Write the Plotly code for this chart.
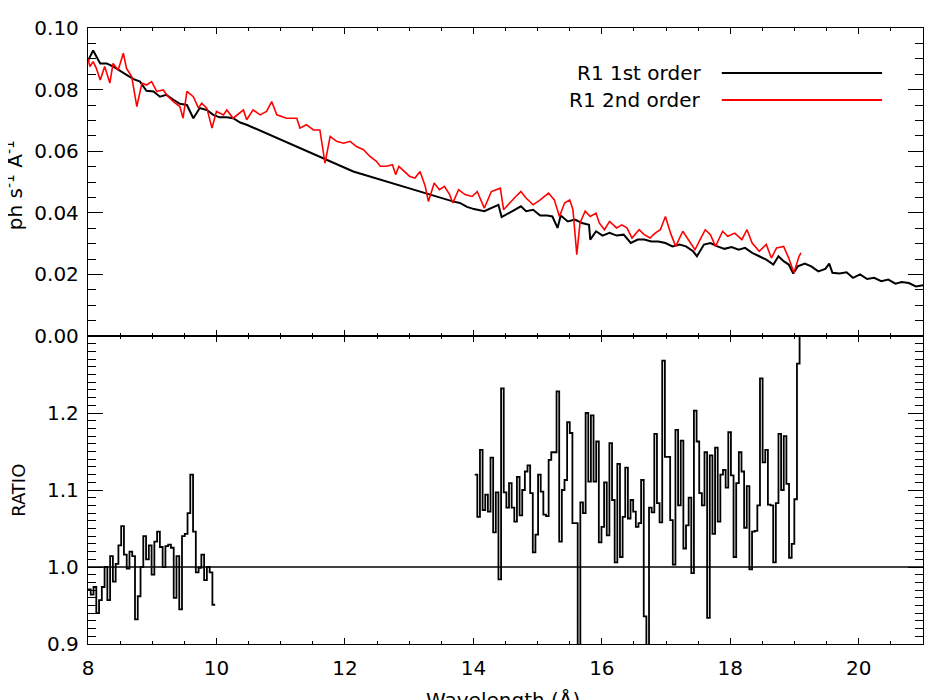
import numpy as np
import plotly.graph_objects as go
from plotly.subplots import make_subplots

# ---------------- data ----------------
# R1 1st order spectrum (ph s^-1 A^-1)
first_wl = [8.00, 8.08, 8.19, 8.29, 8.39, 8.50, 8.60, 8.71, 8.81, 8.91, 9.02, 9.12, 9.22, 9.33,
            9.43, 9.54, 9.64, 9.74, 9.85, 9.95, 10.05, 10.16, 10.26, 10.37, 10.47, 12.13, 12.55,
            13.25, 13.68, 13.79, 13.90, 14.01, 14.17, 14.28, 14.39, 14.44, 14.55, 14.66, 14.74,
            14.82, 14.93, 15.04, 15.15, 15.23, 15.31, 15.36, 15.47, 15.58, 15.69, 15.80, 15.82,
            15.91, 16.01, 16.12, 16.23, 16.34, 16.45, 16.56, 16.66, 16.77, 16.88, 16.99, 17.10,
            17.21, 17.31, 17.42, 17.48, 17.59, 17.69, 17.80, 17.91, 18.02, 18.13, 18.23, 18.34,
            18.45, 18.56, 18.67, 18.75, 18.83, 18.91, 18.98, 19.05, 19.16, 19.26, 19.37, 19.48,
            19.54, 19.59, 19.70, 19.81, 19.91, 20.02, 20.13, 20.24, 20.35, 20.46, 20.57, 20.67,
            20.78, 20.89, 21.00]
first_flux = [0.0894, 0.0927, 0.0885, 0.0885, 0.0875, 0.0862, 0.0848, 0.0834, 0.0826, 0.0796,
              0.0794, 0.0777, 0.0783, 0.0767, 0.0754, 0.0750, 0.0707, 0.0740, 0.0734, 0.0718,
              0.0710, 0.0710, 0.0707, 0.0693, 0.0686, 0.0534, 0.0507, 0.0464, 0.0437, 0.0432,
              0.0419, 0.0412, 0.0405, 0.0416, 0.0426, 0.0386, 0.0399, 0.0410, 0.0421, 0.0405,
              0.0410, 0.0391, 0.0391, 0.0388, 0.0351, 0.0391, 0.0372, 0.0378, 0.0367, 0.0361,
              0.0313, 0.0340, 0.0326, 0.0335, 0.0326, 0.0329, 0.0302, 0.0313, 0.0313, 0.0307,
              0.0307, 0.0302, 0.0291, 0.0297, 0.0291, 0.0275, 0.0259, 0.0297, 0.0302, 0.0291,
              0.0283, 0.0289, 0.0280, 0.0286, 0.0270, 0.0259, 0.0248, 0.0232, 0.0259, 0.0243,
              0.0232, 0.0203, 0.0226, 0.0235, 0.0226, 0.0210, 0.0218, 0.0235, 0.0205, 0.0203,
              0.0207, 0.0189, 0.0200, 0.0185, 0.0189, 0.0178, 0.0183, 0.0170, 0.0175, 0.0172,
              0.0161, 0.0165]

# R1 2nd order spectrum
second_wl = [8.00, 8.03, 8.08, 8.13, 8.19, 8.26, 8.34, 8.39, 8.47, 8.55, 8.60, 8.68, 8.76, 8.84,
             8.91, 8.99, 9.07, 9.17, 9.25, 9.33, 9.43, 9.48, 9.54, 9.64, 9.72, 9.77, 9.85, 9.93,
             10.00, 10.11, 10.16, 10.26, 10.42, 10.47, 10.57, 10.68, 10.78, 10.86, 10.94, 11.09,
             11.25, 11.30, 11.40, 11.51, 11.61, 11.69, 11.77, 11.87, 11.98, 12.08, 12.18, 12.29,
             12.39, 12.49, 12.55, 12.65, 12.74, 12.79, 12.84, 12.93, 13.01, 13.09, 13.17, 13.25,
             13.30, 13.39, 13.47, 13.55, 13.63, 13.68, 13.77, 13.87, 13.98, 14.06, 14.17, 14.28,
             14.42, 14.47, 14.58, 14.66, 14.74, 14.82, 14.93, 15.04, 15.17, 15.26, 15.34, 15.42,
             15.50, 15.55, 15.61, 15.66, 15.74, 15.82, 15.91, 15.96, 16.04, 16.12, 16.23, 16.31,
             16.39, 16.47, 16.58, 16.66, 16.75, 16.83, 16.91, 16.99, 17.07, 17.15, 17.26, 17.37,
             17.45, 17.53, 17.61, 17.69, 17.77, 17.88, 17.96, 18.07, 18.18, 18.26, 18.34, 18.45,
             18.56, 18.64, 18.72, 18.83, 18.91, 18.99, 19.07, 19.10]
second_flux = [0.0902, 0.0875, 0.0891, 0.0869, 0.0831, 0.0875, 0.0821, 0.0885, 0.0864, 0.0918,
               0.0869, 0.0842, 0.0745, 0.0821, 0.0815, 0.0826, 0.0794, 0.0799, 0.0777, 0.0761,
               0.0745, 0.0707, 0.0794, 0.0777, 0.0740, 0.0756, 0.0740, 0.0675, 0.0729, 0.0718,
               0.0734, 0.0707, 0.0734, 0.0702, 0.0734, 0.0718, 0.0729, 0.0761, 0.0718, 0.0707,
               0.0707, 0.0675, 0.0686, 0.0669, 0.0669, 0.0561, 0.0648, 0.0632, 0.0626, 0.0632,
               0.0615, 0.0605, 0.0583, 0.0567, 0.0551, 0.0551, 0.0556, 0.0524, 0.0551, 0.0534,
               0.0518, 0.0513, 0.0534, 0.0486, 0.0437, 0.0497, 0.0475, 0.0486, 0.0459, 0.0432,
               0.0475, 0.0459, 0.0453, 0.0469, 0.0415, 0.0469, 0.0480, 0.0410, 0.0437, 0.0453,
               0.0469, 0.0448, 0.0426, 0.0442, 0.0464, 0.0442, 0.0388, 0.0432, 0.0442, 0.0410,
               0.0264, 0.0367, 0.0405, 0.0388, 0.0399, 0.0367, 0.0345, 0.0372, 0.0351, 0.0361,
               0.0351, 0.0318, 0.0345, 0.0329, 0.0318, 0.0334, 0.0345, 0.0388, 0.0334, 0.0291,
               0.0340, 0.0307, 0.0280, 0.0313, 0.0345, 0.0329, 0.0291, 0.0340, 0.0324, 0.0334,
               0.0313, 0.0345, 0.0302, 0.0275, 0.0297, 0.0253, 0.0286, 0.0291, 0.0253, 0.0205,
               0.0259, 0.0270]

# RATIO, short-wavelength block (8.0 - 9.98 A)
ratio_lo_start, ratio_lo_end = 8.0, 9.98
ratio_lo = [0.971, 0.964, 0.974, 0.940, 0.957, 0.974, 1.000, 0.957, 1.014, 0.981,
            1.004, 1.028, 1.053, 1.016, 0.998, 1.020, 1.014, 0.932, 0.962, 1.000,
            1.040, 1.010, 1.028, 0.990, 1.033, 1.046, 1.026, 1.000, 1.027, 1.029,
            1.025, 0.960, 1.014, 0.945, 1.040, 1.043, 1.070, 1.120, 1.046, 0.993,
            0.999, 1.016, 0.983, 1.000, 0.993, 0.951]

# RATIO, long-wavelength block (14.02 - 19.12 A)
ratio_hi_start, ratio_hi_end = 14.02, 19.12
ratio_hi = [1.120, 1.065, 1.152, 1.074, 1.094, 1.072, 1.142, 1.045, 1.097, 0.984,
            1.232, 1.097, 1.077, 1.109, 1.077, 1.059, 1.117, 1.067, 1.100, 1.124,
            1.132, 1.096, 1.019, 1.042, 1.120, 1.098, 1.068, 1.066, 1.139, 1.149,
            1.149, 1.228, 1.033, 1.100, 1.113, 1.188, 1.174, 1.057, 1.057, 0.850,
            1.084, 1.070,
            1.200, 1.111, 1.197, 1.111, 1.163, 1.032, 1.052, 1.110, 1.041, 1.161,
            1.087, 1.006, 1.134, 1.013, 1.065, 1.129, 1.063, 1.087, 1.072, 1.052,
            1.057, 1.113, 0.936, 0.850, 1.077, 1.071, 1.173, 1.083, 1.058, 1.268,
            1.143, 1.143, 1.061, 1.003, 1.178, 1.080, 1.164, 1.024, 1.054, 1.090,
            0.992, 1.203,
            1.163, 1.096, 1.080, 1.149, 0.934, 1.145, 1.043, 1.155, 1.059, 1.120,
            1.126, 1.103, 1.175, 1.119, 1.013, 1.109, 1.149, 1.124, 1.051, 1.105,
            0.997, 1.046, 1.047, 1.080, 1.245, 1.136, 1.152, 1.081, 1.080, 1.006,
            1.083, 1.173, 1.100, 1.170, 1.108, 1.012, 1.030, 1.088, 1.264, 1.350]

x_ticks = [8, 10, 12, 14, 16, 18, 20]
flux_ticks = [0.00, 0.02, 0.04, 0.06, 0.08, 0.10]
ratio_ticks = [0.9, 1.0, 1.1, 1.2]
legend_labels = ["R1 1st order", "R1 2nd order"]

# ---------------- figure ----------------
FONT = "DejaVu Sans"
FS = 20
fig = make_subplots(rows=2, cols=1, shared_xaxes=True, vertical_spacing=0)

fig.add_trace(go.Scatter(x=first_wl, y=first_flux, mode="lines",
                         line=dict(color="black", width=2), showlegend=False), row=1, col=1)
fig.add_trace(go.Scatter(x=second_wl, y=second_flux, mode="lines",
                         line=dict(color="#ff0000", width=1.6), showlegend=False), row=1, col=1)


def step_trace(start, end, vals):
    edges = np.linspace(start, end, len(vals) + 1)
    return go.Scatter(x=edges, y=list(vals) + [vals[-1]], mode="lines", line_shape="hv",
                      line=dict(color="black", width=1.8), showlegend=False)


fig.add_trace(step_trace(ratio_lo_start, ratio_lo_end, ratio_lo), row=2, col=1)
fig.add_trace(step_trace(ratio_hi_start, ratio_hi_end, ratio_hi), row=2, col=1)

# unity line
fig.add_shape(type="line", xref="x2 domain", yref="y2", x0=0, x1=1, y0=1.0, y1=1.0,
              line=dict(color="black", width=1.5))

xcommon = dict(range=[8, 21], tickvals=x_ticks, ticks="inside", ticklen=6, tickwidth=1.2,
               tickcolor="black", showline=True, linecolor="black", linewidth=1.3,
               mirror="ticks", showgrid=False, zeroline=False, automargin=False,
               minor=dict(dtick=0.5, tick0=8, ticks="inside", ticklen=3, tickcolor="black",
                          showgrid=False),
               tickfont=dict(family=FONT, size=FS, color="black"))
fig.update_xaxes(**xcommon, showticklabels=False, row=1, col=1)
fig.update_xaxes(**xcommon, showticklabels=True, ticklabelstandoff=6, row=2, col=1)

ycommon = dict(ticks="inside", ticklen=15, tickwidth=1.2, tickcolor="black", showline=True,
               linecolor="black", linewidth=1.3, mirror="ticks", showgrid=False,
               zeroline=False, ticklabelstandoff=4, automargin=False,
               tickfont=dict(family=FONT, size=FS, color="black"))
fig.update_yaxes(**ycommon, range=[0, 0.1], tickvals=flux_ticks, tickformat=".2f",
                 minor=dict(dtick=0.005, tick0=0, ticks="inside", ticklen=8,
                            tickcolor="black", showgrid=False), row=1, col=1)
fig.update_yaxes(**ycommon, range=[0.9, 1.3], tickvals=ratio_ticks, tickformat=".1f",
                 minor=dict(dtick=0.01, tick0=0.9, ticks="inside", ticklen=8,
                            tickcolor="black", showgrid=False), row=2, col=1)

# legend drawn IDL-style: label then line sample
leg_colors = ["black", "#ff0000"]
leg_y = [0.927, 0.883]
for lab, col, yy in zip(legend_labels, leg_colors, leg_y):
    fig.add_annotation(xref="paper", yref="paper", x=0.7365, y=yy, text=lab,
                       showarrow=False, xanchor="right", yanchor="middle",
                       font=dict(family=FONT, size=FS, color="black"))
    fig.add_shape(type="line", xref="paper", yref="paper", x0=0.759, x1=0.951, y0=yy, y1=yy,
                  line=dict(color=col, width=2))

# axis titles
fig.add_annotation(xref="paper", yref="paper", x=-0.0885, y=0.745, text="ph s<sup>-1</sup> Å<sup>-1</sup>",
                   textangle=-90, showarrow=False, xanchor="center", yanchor="middle",
                   font=dict(family=FONT, size=FS, color="black"))
fig.add_annotation(xref="paper", yref="paper", x=-0.084, y=0.25, text="RATIO",
                   textangle=-90, showarrow=False, xanchor="center", yanchor="middle",
                   font=dict(family=FONT, size=18, color="black"))
fig.add_annotation(xref="paper", yref="paper", x=0.497, y=-0.068, text="Wavelength (Å)",
                   showarrow=False, xanchor="center", yanchor="top",
                   font=dict(family=FONT, size=FS, color="black"))

# page body adds an 8 px offset, so the figure is 942x692 to fill the 950x700 window
fig.update_layout(width=942, height=692, margin=dict(l=80, r=27, t=20, b=56),
                  plot_bgcolor="white", paper_bgcolor="white", showlegend=False)

fig.write_html("out.html")
